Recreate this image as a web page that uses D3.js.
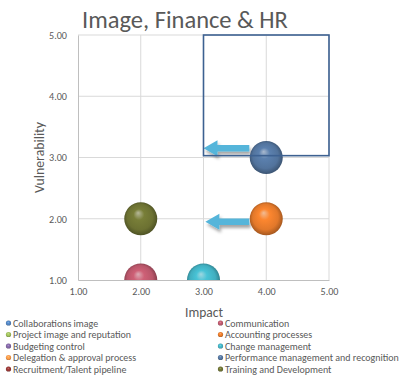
<!DOCTYPE html>
<html>
<head>
<meta charset="utf-8">
<script src="https://cdn.jsdelivr.net/npm/d3@7"></script>
<style>
  html, body { margin: 0; padding: 0; background: #ffffff; }
  svg { display: block; }
  text { font-family: Carlito, Calibri, "Liberation Sans", Arial, sans-serif; }
</style>
</head>
<body>
<svg id="chart" width="409" height="376"></svg>
<script>
// Risk series (two legend columns, read row by row)
const seriesNames = [
  "Collaborations image", "Communication",
  "Project image and reputation", "Accounting processes",
  "Budgeting control", "Change management",
  "Delegation & approval process", "Performance management and recognition",
  "Recruitment/Talent pipeline", "Training and Development"
];
const seriesColors = [
  "#4f81bd", "#b9566a",
  "#9bbb59", "#e2782a",
  "#8064a2", "#41afc0",
  "#f79646", "#52739c",
  "#953735", "#6c7132"
];
// Impact (x) and vulnerability (y); null = no bubble drawn
const impactValues        = [null, 2, null, 4, null, 3, null, 4, null, 2];
const vulnerabilityValues = [null, 1, null, 2, null, 1, null, 3, null, 2];

// Axis ticks
const xTicks = [1, 2, 3, 4, 5];
const yTicks = [1, 2, 3, 4, 5];

// Target zone and movement arrows (in data units)
const zoneX = [3, 5];
const zoneY = [3.03, 5];
const arrowFromX = [3.73, 3.73];
const arrowToX   = [3.0, 3.03];
const arrowY     = [3.15, 1.95];

const svg = d3.select("#chart");
const plot = { left: 78, right: 329, top: 35, bottom: 280 };

const x = d3.scaleLinear().domain([1, 5]).range([plot.left, plot.right]);
const y = d3.scaleLinear().domain([1, 5]).range([plot.bottom, plot.top]);

const textColor = "#595959";

// Scale a text's font size so it spans the given width
function fitWidth(sel, target) {
  sel.each(function () {
    const fs = parseFloat(this.getAttribute("font-size"));
    const w = this.getComputedTextLength();
    if (w > 0) this.setAttribute("font-size", (fs * target / w).toFixed(2));
  });
}

const defs = svg.append("defs");
defs.append("clipPath").attr("id", "plotClip")
  .append("rect")
  .attr("x", plot.left).attr("y", plot.top)
  .attr("width", plot.right - plot.left).attr("height", plot.bottom - plot.top);

const shadow = defs.append("filter").attr("id", "arrowShadow")
  .attr("x", "-20%").attr("y", "-50%").attr("width", "150%").attr("height", "250%");
shadow.append("feDropShadow")
  .attr("dx", 1.5).attr("dy", 3).attr("stdDeviation", 1.6)
  .attr("flood-color", "#000").attr("flood-opacity", 0.35);

// Sphere shading for each series colour
seriesColors.forEach((c, i) => {
  const base = d3.color(c);
  const g = defs.append("radialGradient").attr("id", "ball" + i)
    .attr("cx", "50%").attr("cy", "50%").attr("r", "55%")
    .attr("fx", "42%").attr("fy", "32%");
  g.append("stop").attr("offset", "0%").attr("stop-color", d3.interpolateRgb(c, "#ffffff")(0.5));
  g.append("stop").attr("offset", "30%").attr("stop-color", base.brighter(0.3));
  g.append("stop").attr("offset", "70%").attr("stop-color", base.formatHex());
  g.append("stop").attr("offset", "100%").attr("stop-color", base.darker(1.2));
});

// Gridlines
const grid = svg.append("g");
grid.selectAll("line.v").data(xTicks.slice(1)).join("line")
  .attr("x1", d => x(d)).attr("x2", d => x(d))
  .attr("y1", plot.top).attr("y2", plot.bottom)
  .attr("stroke", "#d9d9d9").attr("stroke-width", 1);
grid.selectAll("line.h").data(yTicks.slice(1)).join("line")
  .attr("x1", plot.left).attr("x2", plot.right)
  .attr("y1", d => y(d)).attr("y2", d => y(d))
  .attr("stroke", "#d9d9d9").attr("stroke-width", 1);

// Axes
const xAxis = svg.append("g").attr("transform", `translate(0,${plot.bottom})`)
  .call(d3.axisBottom(x).tickValues(xTicks).tickFormat(d3.format(".2f")).tickSize(0).tickPadding(8));
const yAxis = svg.append("g").attr("transform", `translate(${plot.left},0)`)
  .call(d3.axisLeft(y).tickValues(yTicks).tickFormat(d3.format(".2f")).tickSize(0).tickPadding(11));
[xAxis, yAxis].forEach(a => {
  a.select(".domain").attr("stroke", "#bfbfbf").attr("stroke-width", 1);
  a.selectAll("text").attr("fill", textColor).attr("font-size", 10)
    .style("font-family", 'Carlito, Calibri, "Liberation Sans", Arial, sans-serif');
});
fitWidth(xAxis.selectAll("text"), 18);
fitWidth(yAxis.selectAll("text"), 18);

// Movement arrows
function arrowPath(x0, x1, yc) {
  const shaft = 3.3, head = 8, headLen = 14;
  const xh = x1 + headLen;
  return `M${x1},${yc} L${xh},${yc - head} L${xh},${yc - shaft} L${x0},${yc - shaft}` +
         ` L${x0},${yc + shaft} L${xh},${yc + shaft} L${xh},${yc + head} Z`;
}
svg.append("g").selectAll("path").data(arrowY).join("path")
  .attr("d", (d, i) => arrowPath(x(arrowFromX[i]), x(arrowToX[i]), y(d)))
  .attr("fill", "#55b5da")
  .attr("filter", "url(#arrowShadow)");

// Bubbles
const points = seriesNames.map((name, i) => ({ name, i, xv: impactValues[i], yv: vulnerabilityValues[i] }))
  .filter(d => d.xv != null && d.yv != null);
svg.append("g").attr("clip-path", "url(#plotClip)")
  .selectAll("circle").data(points).join("circle")
  .attr("cx", d => x(d.xv)).attr("cy", d => y(d.yv))
  .attr("r", 16.5)
  .attr("fill", d => `url(#ball${d.i})`);

// Target zone (outline drawn over the bubbles)
svg.append("rect")
  .attr("x", x(zoneX[0])).attr("y", y(zoneY[1]))
  .attr("width", x(zoneX[1]) - x(zoneX[0]))
  .attr("height", y(zoneY[0]) - y(zoneY[1]))
  .attr("fill", "none").attr("stroke", "#3d6191").attr("stroke-width", 1.6);

// Title
const title = svg.append("text")
  .attr("x", 82).attr("y", 28)
  .attr("font-size", 22).attr("fill", textColor)
  .text("Image, Finance & HR");
fitWidth(title, 206);

// Axis titles
const xTitle = svg.append("text")
  .attr("x", 204).attr("y", 317).attr("text-anchor", "middle")
  .attr("font-size", 12).attr("fill", textColor).text("Impact");
fitWidth(xTitle, 38);
const yTitle = svg.append("text")
  .attr("transform", `translate(44,${(plot.top + plot.bottom) / 2}) rotate(-90)`)
  .attr("text-anchor", "middle")
  .attr("font-size", 12).attr("fill", textColor).text("Vulnerability");
fitWidth(yTitle, 71);

// Legend: two columns, filled row by row
const legendColX = [6, 218];
const legendRow0 = 323, legendRowStep = 11.5;
const legend = svg.append("g");
const items = legend.selectAll("g").data(seriesNames).join("g")
  .attr("transform", (d, i) => `translate(${legendColX[i % 2]},${legendRow0 + Math.floor(i / 2) * legendRowStep})`);
items.append("circle").attr("cx", 2.5).attr("cy", 0).attr("r", 2.6)
  .attr("fill", (d, i) => `url(#ball${i})`);
const legendText = items.append("text")
  .attr("x", 7).attr("y", 3.5)
  .attr("font-size", 10).attr("fill", textColor)
  .text(d => d);
// Size legend text so the longest entry spans its measured width
const longest = legendText.filter(d => d === "Performance management and recognition").node();
const lw = longest.getComputedTextLength();
legendText.attr("font-size", (10 * 174 / lw).toFixed(2));
</script>
</body>
</html>
